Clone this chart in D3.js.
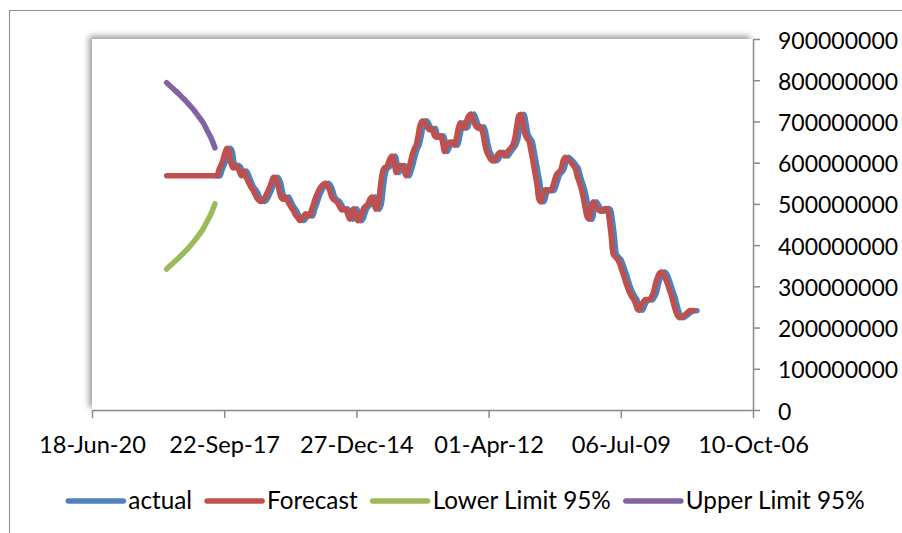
<!DOCTYPE html>
<html><head><meta charset="utf-8">
<script src="https://cdn.jsdelivr.net/npm/d3@7"></script>
<style>
html,body{margin:0;padding:0;background:#fff;}
svg{display:block;}
text{font-family:Lato,"Open Sans",sans-serif;fill:#000;}
</style>
</head><body>
<svg id="chart" width="902" height="533"></svg>
<script>
// ---------------- DATA ----------------
const UNIT = 1e6; // values below are in millions
const actualStart = "2007-12-08";   // twice-monthly series (8th and 23rd)
const actualDays = [8, 23];
const forecastStart = "2008-01-01"; // twice-monthly series (1st and 16th)
const forecastDays = [1, 16];
const actualValues = [
241,241,241,237,233,229,226,224,228,239,
256,275,289,304,318,330,335,332,322,307,
286,275,267,268,268,263,253,242,244,257,
269,276,285,297,312,327,342,356,366,371,
378,420,461,486,489,485,482,484,490,498,
505,487,463,467,489,515,537,552,567,586,
593,600,605,610,613,604,585,578,573,561,
544,533,532,534,534,521,505,510,546,574,
602,628,652,659,669,695,717,714,689,659,
643,636,630,623,616,621,625,623,614,606,
604,608,617,627,647,673,687,683,686,695,
709,718,712,700,685,685,697,684,659,642,
648,650,647,637,627,651,665,665,661,665,
683,679,682,691,700,701,692,666,643,633,
618,598,581,568,582,592,593,588,576,598,
616,611,598,589,587,572,535,498,487,501,
517,512,500,495,490,477,463,459,470,488,
481,463,473,485,488,485,492,501,507,510,
516,531,543,550,548,544,537,527,515,500,
486,471,472,476,469,461,460,467,473,483,
490,498,508,517,511,514,530,552,563,564,
551,539,527,517,509,506,508,513,524,533,
539,548,559,571,580,568,580,590,594,587,
597,627,635,624,607,594,583,568,568];
const forecastValues = [
241,241,241,237,233,229,226,224,228,239,
256,275,289,304,318,330,335,332,322,307,
286,275,267,268,268,263,253,242,244,257,
269,276,285,297,312,327,342,356,366,371,
378,420,461,486,489,485,482,484,490,498,
505,487,463,467,489,515,537,552,567,586,
593,600,605,610,613,604,585,578,573,561,
544,533,532,534,534,521,505,510,546,574,
602,628,652,659,669,695,717,714,689,659,
643,636,630,623,616,621,625,623,614,606,
604,608,617,627,647,673,687,683,686,695,
709,718,712,700,685,685,697,684,659,642,
648,650,647,637,627,651,665,665,661,665,
683,679,682,691,700,701,692,666,643,633,
618,598,581,568,582,592,593,588,576,598,
616,611,598,589,587,572,535,498,487,501,
517,512,500,495,490,477,463,459,470,488,
481,463,473,485,488,485,492,501,507,510,
516,531,543,550,548,544,537,527,515,500,
486,471,472,476,469,461,460,467,473,483,
490,498,508,517,511,514,530,552,563,564,
551,539,527,517,509,506,508,513,524,533,
539,548,559,571,580,568,580,590,594,587,
597,627,635,624,607,594,583,568,568];
const futureDates = ["2018-01-01","2018-02-01","2018-03-01","2018-04-01","2018-05-01","2018-06-01",
                     "2018-07-01","2018-08-01","2018-09-01","2018-10-01","2018-11-01","2018-12-01"];
const futureForecast = [568,568,568,568,568,568,568,568,568,568,568,568];
const limitDates = ["2017-12-01","2018-01-01","2018-02-01","2018-03-01","2018-04-01","2018-05-01","2018-06-01",
                    "2018-07-01","2018-08-01","2018-09-01","2018-10-01","2018-11-01","2018-12-01"];
const lowerLimit = [500,475,456,439,425,412,400,389,379,369,360,351,342];
const upperLimit = [636,661,680,697,711,724,736,747,757,767,776,785,794];
const xTickLabels = ["18-Jun-20","22-Sep-17","27-Dec-14","01-Apr-12","06-Jul-09","10-Oct-06"];
const yTickValues = [0,100000000,200000000,300000000,400000000,500000000,600000000,700000000,800000000,900000000];
const seriesNames = ["actual","Forecast","Lower Limit 95%","Upper Limit 95%"];
const seriesColors = ["#4F81BD","#C0504D","#9BBB59","#8064A2"];

// ---------------- HELPERS ----------------
const parseISO = d3.timeParse("%Y-%m-%d");
const parseTick = d3.timeParse("%d-%b-%y");
const fmtTick = d3.timeFormat("%d-%b-%y");
function twiceMonthly(start, days, n){
  const out = []; let d = parseISO(start);
  for (let i = 0; i < n; i++){
    out.push(d);
    d = d.getDate() === days[0] ? new Date(d.getFullYear(), d.getMonth(), days[1])
                                : new Date(d.getFullYear(), d.getMonth() + 1, days[0]);
  }
  return out;
}
const actualDates = twiceMonthly(actualStart, actualDays, actualValues.length);
const forecastDates = twiceMonthly(forecastStart, forecastDays, forecastValues.length);

const actualData = actualDates.map((d,i)=>({d, v: actualValues[i]*UNIT}));
const forecastData = forecastDates.map((d,i)=>({d, v: forecastValues[i]*UNIT}))
  .concat(futureDates.map((s,i)=>({d: parseISO(s), v: futureForecast[i]*UNIT})));
const lowerData = limitDates.map((s,i)=>({d: parseISO(s), v: lowerLimit[i]*UNIT}));
const upperData = limitDates.map((s,i)=>({d: parseISO(s), v: upperLimit[i]*UNIT}));

// ---------------- LAYOUT ----------------
const plot = {left: 92, top: 39, right: 753, bottom: 410};
const svg = d3.select("#chart");
const tickDates = xTickLabels.map(parseTick);
const FONT = "Lato, 'Open Sans', sans-serif";

const x = d3.scaleTime().domain([tickDates[0], tickDates[tickDates.length-1]]).range([plot.left, plot.right]);
const y = d3.scaleLinear().domain([0, 900000000]).range([plot.bottom, plot.top]);

// defs: shadow
const defs = svg.append("defs");
const f = defs.append("filter").attr("id","shadow").attr("x","-5%").attr("y","-5%").attr("width","110%").attr("height","110%");
f.append("feGaussianBlur").attr("in","SourceAlpha").attr("stdDeviation",3).attr("result","b");
f.append("feOffset").attr("in","b").attr("dx",-3).attr("dy",-3).attr("result","o");
f.append("feComponentTransfer").attr("in","o").attr("result","s")
  .append("feFuncA").attr("type","linear").attr("slope",0.4);
const m = f.append("feMerge"); m.append("feMergeNode").attr("in","s"); m.append("feMergeNode").attr("in","SourceGraphic");

// outer chart border
svg.append("rect").attr("x",9.5).attr("y",10.5).attr("width",1000).attr("height",1000)
  .attr("fill","#fff").attr("stroke","#8c8c8c").attr("stroke-width",1);

// plot area
svg.append("rect").attr("x",plot.left).attr("y",plot.top)
  .attr("width",plot.right-plot.left).attr("height",plot.bottom-plot.top)
  .attr("fill","#fff").attr("filter","url(#shadow)");

// axes
const axisColor = "#8c8c8c";
const xAxis = svg.append("g").attr("transform",`translate(0,${plot.bottom})`)
  .call(d3.axisBottom(x).tickValues(tickDates).tickFormat(fmtTick).tickSize(8).tickSizeOuter(0));
xAxis.select(".domain").attr("stroke",axisColor).attr("stroke-width",1.5);
xAxis.selectAll(".tick line").attr("stroke",axisColor).attr("stroke-width",1.5);
xAxis.selectAll(".tick text").attr("y",43).attr("dy",null).attr("font-size","23.6px")
  .attr("font-family",FONT).attr("fill","#000");

const yAxis = svg.append("g").attr("transform",`translate(${plot.right},0)`)
  .call(d3.axisRight(y).tickValues(yTickValues).tickFormat(d3.format("d")).tickSize(7).tickSizeOuter(0));
yAxis.select(".domain").attr("stroke",axisColor).attr("stroke-width",1.5);
yAxis.selectAll(".tick line").attr("stroke",axisColor).attr("stroke-width",1.5);
yAxis.selectAll(".tick text").attr("x",25).attr("y",9).attr("dy",null).attr("text-anchor","start")
  .attr("font-size","23px").attr("font-family",FONT).attr("fill","#000");

// lines
const line = d3.line().x(d=>x(d.d)).y(d=>y(d.v)).curve(d3.curveCatmullRom.alpha(0.5));
const seriesData = [actualData, forecastData, lowerData, upperData];
seriesData.forEach((data,i)=>{
  svg.append("path").datum(data).attr("d",line)
    .attr("fill","none").attr("stroke",seriesColors[i]).attr("stroke-width",5.5)
    .attr("stroke-linejoin","round").attr("stroke-linecap","round");
});

// legend
const legend = svg.append("g");
const items = seriesNames.map((name,i)=>{
  const g = legend.append("g");
  g.append("line").attr("x1",0).attr("x2",55).attr("y1",0).attr("y2",0)
    .attr("stroke",seriesColors[i]).attr("stroke-width",5.5).attr("stroke-linecap","round");
  const t = g.append("text").attr("x",60).attr("y",7.5).attr("font-size","24.3px").attr("font-family",FONT).text(name);
  return {g, w: 60 + t.node().getComputedTextLength()};
});
const gap = 15;
const total = d3.sum(items, d=>d.w) + gap*(items.length-1);
let cx = 466.5 - total/2;
items.forEach(it=>{ it.g.attr("transform",`translate(${cx},501)`); cx += it.w + gap; });
</script>
</body></html>
